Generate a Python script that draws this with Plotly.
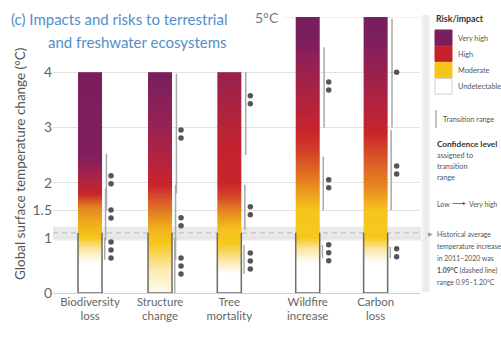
import numpy as np
import plotly.graph_objects as go

# ---------------------------------------------------------------- data
categories = ["Biodiversity<br>loss", "Structure<br>change", "Tree<br>mortality",
              "Wildfire<br>increase", "Carbon<br>loss"]
bar_top = [4, 4, 4, 5, 5]

# colour stops along each bar: (temperature °C, colour)
stops_biodiversity = [(0, "#ffffff"), (0.55, "#ffffff"), (0.8, "#fbe7a2"), (1.0, "#f6c81c"),
                      (1.3, "#eea71b"), (1.55, "#e3861f"), (1.8, "#c9242b"), (2.1, "#a8234a"),
                      (2.5, "#801f5e"), (4, "#7b1e5e")]
stops_structure = [(0, "#fffbee"), (0.45, "#fbe9a8"), (0.9, "#f6c81c"), (1.15, "#f2b31c"),
                   (1.4, "#e58b1f"), (1.7, "#d95429"), (1.95, "#c9242b"), (2.3, "#b9243a"),
                   (3.0, "#982252"), (3.8, "#7e1f5e"), (4, "#7b1e5e")]
stops_tree = [(0, "#ffffff"), (0.35, "#ffffff"), (0.6, "#fbe7a2"), (0.9, "#f6c81c"),
              (1.15, "#f5c21c"), (1.45, "#e68d1f"), (1.75, "#d4462a"), (2.0, "#c9242b"),
              (2.5, "#c5232c"), (3.2, "#b0243c"), (4, "#96214f")]
stops_wildfire = [(0, "#ffffff"), (0.55, "#ffffff"), (0.8, "#fbe5a0"), (1.0, "#f6c81c"),
                  (1.5, "#f5c51c"), (1.8, "#ec9f1d"), (2.1, "#e27520"), (2.6, "#d03d28"),
                  (2.9, "#c9242b"), (3.5, "#b0233e"), (4.3, "#8d2057"), (4.6, "#7b1e5e"),
                  (5, "#7b1e5e")]
stops_carbon = [(0, "#ffffff"), (0.55, "#ffffff"), (0.8, "#fbe5a0"), (1.0, "#f6c81c"),
                (1.5, "#f5c51c"), (1.9, "#e8891f"), (2.4, "#da5a28"), (2.9, "#c9242b"),
                (3.5, "#ae2340"), (4.4, "#861f5a"), (4.7, "#7b1e5e"), (5, "#7b1e5e")]
bar_stops = [stops_biodiversity, stops_structure, stops_tree, stops_wildfire, stops_carbon]

# transition ranges (°C): undetectable->moderate, moderate->high, high->very high
transition_biodiversity = [(0.6, 1.0), (0.95, 1.9), (1.5, 2.52)]
transition_structure = [(0.0, 1.0), (0.6, 1.96), (1.8, 3.97)]
transition_tree = [(0.35, 0.87), (1.14, 1.96), (2.5, 4.0)]
transition_wildfire = [(0.63, 0.87), (1.5, 2.47), (3.0, 4.45)]
transition_carbon = [(0.63, 0.84), (1.5, 2.95), (3.0, 4.97)]
transitions = [transition_biodiversity, transition_structure, transition_tree,
               transition_wildfire, transition_carbon]

# confidence: (centre of dot group °C, number of dots: 1 low .. 4 very high)
confidence_biodiversity = [(0.78, 3), (1.43, 2), (2.05, 2)]
confidence_structure = [(0.49, 3), (1.29, 2), (2.88, 2)]
confidence_tree = [(0.58, 3), (1.49, 2), (3.5, 2)]
confidence_wildfire = [(0.73, 3), (1.98, 2), (3.75, 2)]
confidence_carbon = [(0.73, 2), (2.23, 2), (4.0, 1)]
confidences = [confidence_biodiversity, confidence_structure, confidence_tree,
               confidence_wildfire, confidence_carbon]

historical_mean = 1.09
historical_range = (0.95, 1.20)

y_ticks = [0, 1, 1.5, 2, 3, 4]
y_tick_labels = ["0", "1", "1.5", "2", "3", "4"]

# ---------------------------------------------------------------- layout helpers
FONT = "Lato, Liberation Sans, sans-serif"
W, H = 501, 338
L, R, T, B = 53, 420, 17, 293          # plot area in pixels
x_pos = [0, 1, 1.99, 3.11, 4.08]       # bar centres along x
x_range = [-0.529, 4.714]
bar_w = 0.343
line_off = 0.222
dot_off = 0.30
dot_step = 0.145


def px(x):
    return (x - L) / (R - L)


def py(y):
    return (B - y) / (B - T)


fig = go.Figure()

# gradient bars drawn as single-column heatmaps
for xc, top, stops in zip(x_pos, bar_top, bar_stops):
    n = 400
    edges = np.linspace(0, top, n + 1)
    centres = (edges[:-1] + edges[1:]) / 2
    scale = [[t / top, c] for t, c in stops]
    fig.add_trace(go.Heatmap(
        x=[xc - bar_w / 2, xc + bar_w / 2], y=edges, z=centres.reshape(-1, 1),
        zmin=0, zmax=top, colorscale=scale, showscale=False, hoverinfo="skip"))

# transition range lines
for xc, ranges in zip(x_pos, transitions):
    for k, (lo, hi) in enumerate(ranges):
        xl = xc + line_off + (k - 1) * 0.012
        fig.add_trace(go.Scatter(x=[xl, xl], y=[lo, hi], mode="lines",
                                 line=dict(color="#a9a9a9", width=1.5),
                                 hoverinfo="skip", showlegend=False))

# confidence dots
for xc, groups in zip(x_pos, confidences):
    ys = []
    for centre, count in groups:
        ys += [centre + (i - (count - 1) / 2) * dot_step for i in range(count)]
    fig.add_trace(go.Scatter(x=[xc + dot_off] * len(ys), y=ys, mode="markers",
                             marker=dict(color="#555555", size=5.5),
                             hoverinfo="skip", showlegend=False))

shapes = []
# historical warming band and dashed mean line
shapes.append(dict(type="rect", xref="paper", yref="y", x0=0, x1=px(428),
                   y0=historical_range[0], y1=historical_range[1],
                   fillcolor="#e9e9e9", line=dict(width=0), layer="between"))
shapes.append(dict(type="line", xref="paper", yref="y", x0=0, x1=px(428),
                   y0=historical_mean, y1=historical_mean,
                   line=dict(color="#c2c2c2", width=1.3, dash="5px,4px"), layer="between"))
# 5 °C guide line
shapes.append(dict(type="line", xref="paper", yref="y", x0=px(283), x1=1, y0=5, y1=5,
                   line=dict(color="#e2e2e2", width=1), layer="between"))
# outlined "undetectable" boxes
for xc in x_pos:
    shapes.append(dict(type="path", xref="x", yref="y",
                       path=f"M {xc - bar_w / 2} {historical_mean} L {xc - bar_w / 2} 0 "
                            f"L {xc + bar_w / 2} 0 L {xc + bar_w / 2} {historical_mean}",
                       line=dict(color="#6b6b6b", width=1.5), layer="above"))

# legend panel shading
for i, g in enumerate(["#f6f6f6", "#eeeeee", "#e8e8e8", "#eeeeee", "#f7f7f7"]):
    shapes.append(dict(type="rect", xref="paper", yref="paper",
                       x0=px(421 + 2 * i), x1=px(423 + 2 * i), y0=py(292), y1=py(15),
                       fillcolor=g, line=dict(width=0), layer="below"))

# legend swatches
swatches = [("#7b1e5e", "Very high"), ("#c7202b", "High"), ("#f6c51c", "Moderate"),
            ("#ffffff", "Undetectable")]
annotations = []
LEG = 7.3
for i, (col, lab) in enumerate(swatches):
    y0 = 30 + i * 16.2
    shapes.append(dict(type="rect", xref="paper", yref="paper",
                       x0=px(435), x1=px(452), y0=py(y0 + 15.5), y1=py(y0),
                       fillcolor=col,
                       line=dict(color="#d0d0d0" if col == "#ffffff" else col, width=1)))
    annotations.append(dict(x=px(456), y=py(y0 + 8), xref="paper", yref="paper",
                            text=lab, showarrow=False, xanchor="left", yanchor="middle",
                            font=dict(family=FONT, size=LEG, color="#555555")))

shapes.append(dict(type="line", xref="paper", yref="paper", x0=px(436), x1=px(436),
                   y0=py(128), y1=py(110), line=dict(color="#8a8a8a", width=1)))

fig.update_layout(shapes=shapes)

text_items = [
    (434, 18, "<b>Risk/impact</b>", 8.8, "#333333"),
    (441, 119, "Transition range", LEG, "#555555"),
    (435, 144, "<b>Confidence level</b>", 8.2, "#333333"),
    (435, 155, "assigned to", LEG, "#555555"),
    (435, 166, "transition", LEG, "#555555"),
    (435, 177, "range", LEG, "#555555"),
    (435, 204, "Low", 6.9, "#555555"),
    (467, 204, "Very high", 6.9, "#555555"),
    (435, 234, "Historical average", 6.9, "#555555"),
    (435, 246, "temperature increase", 6.9, "#555555"),
    (435, 258, "in 2011–2020 was", 6.9, "#555555"),
    (435, 270, "<b>1.09°C</b> (dashed line)", 6.9, "#555555"),
    (435, 282, "range 0.95–1.20°C", 6.9, "#555555"),
]
for x, y, txt, size, col in text_items:
    annotations.append(dict(x=px(x), y=py(y), xref="paper", yref="paper", text=txt,
                            showarrow=False, xanchor="left", yanchor="middle",
                            font=dict(family=FONT, size=size, color=col)))

# legend arrows
annotations.append(dict(x=px(466), y=py(203.5), ax=-15, ay=0, xref="paper",
                        yref="paper", axref="pixel", ayref="pixel", text="",
                        showarrow=True, arrowhead=2, arrowsize=0.8, arrowwidth=0.8,
                        arrowcolor="#555555"))
annotations.append(dict(x=px(435), y=py(234), xref="paper", yref="paper", text="▶",
                        showarrow=False, xanchor="right", yanchor="middle",
                        font=dict(family=FONT, size=6, color="#9a9a9a")))

# legend confidence dots (1 to 4)
leg_x, leg_y = [], []
for k in range(1, 5):
    for j in range(k):
        leg_x.append(px(443 + (k - 1) * 13.3))
        leg_y.append(py(194.5 - j * 5))
fig.add_trace(go.Scatter(x=leg_x, y=leg_y, xaxis="x2", yaxis="y2", mode="markers",
                         marker=dict(color="#555555", size=3.2), cliponaxis=False,
                         hoverinfo="skip", showlegend=False))

# title, y-axis title and 5 °C label
annotations.append(dict(x=px(229), y=py(19), xref="paper", yref="paper",
                        text="(c) Impacts and risks to terrestrial", showarrow=False,
                        xanchor="right", yanchor="middle",
                        font=dict(family=FONT, size=15, color="#4f8fcc")))
annotations.append(dict(x=px(229), y=py(42), xref="paper", yref="paper",
                        text="and freshwater ecosystems", showarrow=False,
                        xanchor="right", yanchor="middle",
                        font=dict(family=FONT, size=15, color="#4f8fcc")))
annotations.append(dict(x=px(20), y=py(164), xref="paper", yref="paper",
                        text="Global surface temperature change (°C)", showarrow=False,
                        textangle=-90, xanchor="center", yanchor="middle",
                        font=dict(family=FONT, size=13.5, color="#555555")))
annotations.append(dict(x=px(267), y=5, xref="paper", yref="y", text="5°C",
                        showarrow=False, xanchor="center", yanchor="middle",
                        font=dict(family=FONT, size=14, color="#777777")))

fig.update_layout(
    width=W, height=H,
    margin=dict(l=L, r=W - R, t=T, b=H - B),
    paper_bgcolor="white", plot_bgcolor="white",
    showlegend=False,
    annotations=annotations,
    xaxis=dict(range=x_range, tickvals=x_pos, ticktext=categories, showgrid=False,
               zeroline=False, showline=False, ticks="",
               tickfont=dict(family=FONT, size=11.5, color="#666666")),
    yaxis=dict(range=[0, 5], tickvals=y_ticks, ticktext=y_tick_labels, showgrid=True,
               gridcolor="#e2e2e2", gridwidth=1, zeroline=True, zerolinecolor="#d0d0d0",
               zerolinewidth=1.2, ticks="", showline=False,
               tickfont=dict(family=FONT, size=14, color="#666666")),
    xaxis2=dict(range=[0, 1], overlaying="x", visible=False, domain=[0, 1]),
    yaxis2=dict(range=[0, 1], overlaying="y", visible=False),
)

fig.write_html("out.html")
